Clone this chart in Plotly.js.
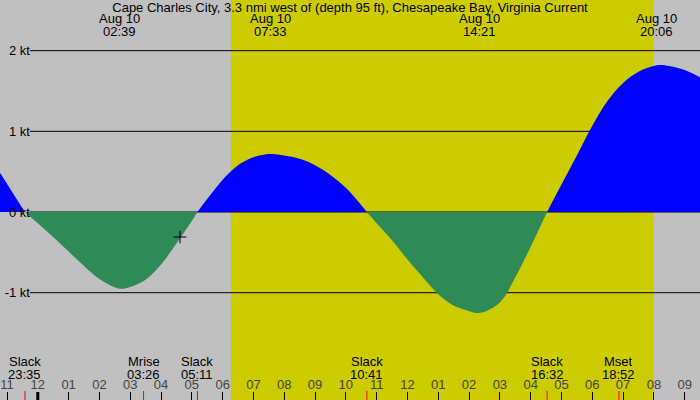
<!DOCTYPE html>
<html>
<head>
<meta charset="utf-8">
<script src="https://cdn.plot.ly/plotly-3.0.1.min.js"></script>
<style>
  html, body { margin: 0; padding: 0; background: #c0c0c0; }
  #chart { width: 700px; height: 400px; }
</style>
</head>
<body>
<div id="chart"></div>
<script>
const chartTitle = 'Cape Charles City, 3.3 nmi west of (depth 95 ft), Chesapeake Bay, Virginia Current'

// current in knots (+ flood, - ebb)
const curveTimes = [
  '2024-08-09 22:45', '2024-08-09 23:00', '2024-08-09 23:15', '2024-08-09 23:35',
  '2024-08-10 00:00', '2024-08-10 00:30', '2024-08-10 01:00', '2024-08-10 01:30', '2024-08-10 02:00',
  '2024-08-10 02:39', '2024-08-10 03:00', '2024-08-10 03:30', '2024-08-10 04:00', '2024-08-10 04:30',
  '2024-08-10 05:00', '2024-08-10 05:11', '2024-08-10 05:30', '2024-08-10 06:00', '2024-08-10 06:30',
  '2024-08-10 07:00', '2024-08-10 07:33', '2024-08-10 08:00', '2024-08-10 08:30', '2024-08-10 09:00',
  '2024-08-10 09:30', '2024-08-10 10:00', '2024-08-10 10:41', '2024-08-10 11:00',
  '2024-08-10 11:30', '2024-08-10 12:00', '2024-08-10 12:30', '2024-08-10 13:00', '2024-08-10 13:30',
  '2024-08-10 14:00', '2024-08-10 14:21', '2024-08-10 15:00', '2024-08-10 15:30',
  '2024-08-10 16:00', '2024-08-10 16:32', '2024-08-10 17:00', '2024-08-10 17:30', '2024-08-10 18:00',
  '2024-08-10 18:30', '2024-08-10 19:00', '2024-08-10 19:30', '2024-08-10 20:06', '2024-08-10 20:30',
  '2024-08-10 21:00', '2024-08-10 21:30'
]
const curveKt = [
  0.50, 0.35, 0.20, 0,
  -0.14, -0.31, -0.49, -0.67, -0.83,
  -0.95, -0.93, -0.84, -0.65, -0.39,
  -0.11, 0, 0.16, 0.40, 0.58,
  0.68, 0.72, 0.70, 0.66, 0.58,
  0.46, 0.30, 0, -0.14,
  -0.35, -0.59, -0.81, -1.02, -1.16,
  -1.23, -1.25, -1.12, -0.81,
  -0.43, 0, 0.34, 0.70, 1.07,
  1.38, 1.60, 1.74, 1.82, 1.81,
  1.76, 1.67
]

// max / min current times shown at the top
const extremeStamps = ['2024-08-10 02:39', '2024-08-10 07:33', '2024-08-10 14:21', '2024-08-10 20:06']
const extremeDay = 'Aug 10'

// slack water and moon events along the bottom
const eventNames = ['Slack', 'Mrise', 'Slack', 'Slack', 'Slack', 'Mset']
const eventStamps = ['2024-08-09 23:35', '2024-08-10 03:26', '2024-08-10 05:11', '2024-08-10 10:41', '2024-08-10 16:32', '2024-08-10 18:52']

const sunrise = '2024-08-10 06:16'
const sunset = '2024-08-10 20:00'
const midnight = '2024-08-10 00:00'

const markerTime = ['2024-08-10 04:37']
const markerKt = [-0.31]

const ktLevels = [-1, 0, 1, 2]
const ktLabels = ['-1 kt', '0 kt', '1 kt', '2 kt']

const Plotly = window.Plotly
const font = { family: 'Liberation Sans, Arial, sans-serif', size: 13, color: '#000' }

// split the curve at each slack so every flood / ebb lobe is its own filled trace
let lobes = []
let cur = { x: [], y: [] }
curveKt.forEach((v, i) => {
  cur.x.push(curveTimes[i])
  cur.y.push(v)
  if (v === 0 && cur.y.length > 1) {
    lobes.push(cur)
    cur = { x: [curveTimes[i]], y: [v] }
  }
})
if (cur.y.length > 1) { lobes.push(cur) }

let data = lobes.map(l => {
  const isFlood = l.y.some(v => v > 0)
  const color = isFlood ? '#0000ff' : '#2e8b57'
  return {
    x: l.x,
    y: l.y,
    type: 'scatter',
    mode: 'lines',
    line: { width: 0, color: color, shape: 'spline', smoothing: 1 },
    fill: 'tozeroy',
    fillcolor: color,
    hoverinfo: 'skip',
  }
})

data.push({
  x: markerTime,
  y: markerKt,
  type: 'scatter',
  mode: 'markers',
  marker: { symbol: 'cross-thin', size: 9, line: { color: '#000', width: 1 } },
  hoverinfo: 'skip',
})

let shapes = [
  {
    type: 'rect', xref: 'x', yref: 'paper',
    x0: sunrise, x1: sunset, y0: 0, y1: 1,
    fillcolor: '#cccc00', line: { width: 0 }, layer: 'below',
  },
]
ktLevels.forEach(k => {
  shapes.push({
    type: 'line', xref: 'paper', yref: 'y',
    x0: 30 / 700, x1: 1, y0: k, y1: k,
    line: { color: '#000', width: 1 }, layer: 'below',
  })
})
shapes.push({
  type: 'line', xref: 'x', yref: 'paper',
  x0: midnight, x1: midnight, y0: 0, y1: 8 / 400,
  line: { color: '#000', width: 3 },
})
eventStamps.forEach(t => {
  shapes.push({
    type: 'line', xref: 'x', yref: 'paper',
    x0: t, x1: t, y0: 0, y1: 9 / 400,
    line: { color: '#ff0000', width: 1 },
  })
})

let annotations = []
extremeStamps.forEach(t => {
  annotations.push({
    x: t, y: 1 - 19 / 400, xref: 'x', yref: 'paper',
    text: extremeDay, showarrow: false, yanchor: 'middle', font: font,
  })
  annotations.push({
    x: t, y: 1 - 31 / 400, xref: 'x', yref: 'paper',
    text: t.slice(11), showarrow: false, yanchor: 'middle', font: font,
  })
})
eventStamps.forEach((t, i) => {
  annotations.push({
    x: t, y: 1 - 361 / 400, xref: 'x', yref: 'paper',
    text: eventNames[i], showarrow: false, yanchor: 'middle', font: font,
  })
  annotations.push({
    x: t, y: 1 - 374 / 400, xref: 'x', yref: 'paper',
    text: t.slice(11), showarrow: false, yanchor: 'middle', font: font,
  })
})

let layout = {
  width: 700,
  height: 400,
  margin: { l: 0, r: 0, t: 0, b: 0 },
  paper_bgcolor: '#c0c0c0',
  plot_bgcolor: '#c0c0c0',
  font: font,
  showlegend: false,
  title: {
    text: chartTitle,
    x: 0.5, xref: 'paper',
    y: 1 - 7 / 400, yref: 'container', yanchor: 'middle',
    font: font,
  },
  xaxis: {
    type: 'date',
    range: ['2024-08-09 22:46:22', '2024-08-10 21:29:50'],
    tick0: '2024-08-09 23:00',
    dtick: 3600000,
    tickformat: '%I',
    ticks: 'inside',
    ticklen: 8,
    tickcolor: '#000',
    ticklabelposition: 'inside',
    showgrid: false,
    zeroline: false,
    showline: false,
    fixedrange: true,
  },
  yaxis: {
    range: [-2.330, 2.628],
    anchor: 'free',
    position: 30 / 700,
    tickvals: ktLevels,
    ticktext: ktLabels,
    ticks: '',
    showgrid: false,
    zeroline: false,
    showline: false,
    fixedrange: true,
  },
  shapes: shapes,
  annotations: annotations,
}

Plotly.newPlot('chart', data, layout, { displayModeBar: false, staticPlot: true })
</script>
</body>
</html>
